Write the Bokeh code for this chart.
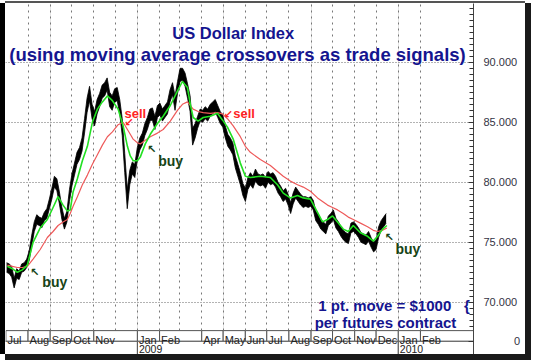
import numpy as np
import pandas as pd
from bokeh.plotting import figure
from bokeh.models import Range1d, FixedTicker, NumeralTickFormatter, Grid, Label
from bokeh.core.properties import value
from bokeh.embed import file_html
from bokeh.resources import INLINE

# ---------------- data ----------------
price_dates = pd.date_range("2008-07-02", "2009-12-15", periods=152)
price_hi = [73.3, 73.2, 73.0, 72.0, 72.8, 72.6, 73.2, 73.3, 73.6, 74.3,
            75.6, 76.7, 77.3, 77.1, 77.0, 77.5, 77.8, 78.6, 79.5, 80.5,
            80.3, 79.2, 77.9, 77.0, 77.6, 79.4, 80.7, 81.6, 82.5, 82.9,
            83.7, 85.3, 87.0, 88.0, 86.5, 85.9, 86.9, 87.4, 88.1, 88.3,
            88.7, 87.5, 87.2, 87.8, 87.9, 86.9, 85.3, 82.4, 79.4, 81.0,
            81.7, 81.5, 82.9, 83.7, 84.1, 84.9, 85.4, 86.1, 86.2, 85.5,
            86.4, 86.6, 86.1, 86.4, 86.7, 87.7, 88.3, 87.2, 88.4, 89.5,
            89.5, 89.1, 88.2, 87.2, 84.5, 84.9, 85.5, 86.1, 86.0, 86.3,
            86.1, 86.5, 86.7, 86.9, 86.4, 85.9, 85.6, 84.7, 84.0, 83.7,
            83.3, 82.2, 81.5, 80.8, 79.9, 79.5, 80.4, 80.8, 80.5, 81.1,
            80.7, 80.6, 80.7, 80.4, 80.9, 80.7, 80.8, 80.5, 80.0, 79.7,
            79.3, 79.5, 79.0, 78.3, 79.1, 79.6, 79.3, 79.0, 78.8, 78.8,
            78.7, 78.8, 78.5, 77.6, 77.3, 76.9, 76.7, 76.5, 77.2, 77.4,
            77.7, 77.0, 76.7, 76.3, 76.0, 75.8, 75.7, 76.6, 76.7, 76.5,
            76.2, 75.8, 75.7, 75.6, 75.9, 75.4, 75.0, 75.2, 76.3, 76.8,
            77.1, 77.4]
price_lo = [72.5, 72.4, 72.1, 71.2, 72.0, 71.9, 72.5, 72.6, 72.9, 73.5,
            74.7, 75.9, 76.5, 76.4, 76.2, 76.8, 77.0, 77.8, 78.6, 79.6,
            79.3, 78.2, 76.9, 76.1, 76.7, 78.4, 79.7, 80.6, 81.5, 81.9,
            82.6, 84.1, 85.8, 86.8, 85.3, 84.7, 85.7, 86.3, 87.0, 87.2,
            87.7, 86.3, 86.0, 86.7, 86.8, 85.7, 83.9, 80.8, 77.8, 79.8,
            80.7, 80.4, 81.9, 82.7, 83.1, 83.9, 84.4, 85.1, 85.2, 84.4,
            85.4, 85.6, 85.1, 85.4, 85.7, 86.7, 87.3, 86.0, 87.4, 88.4,
            88.5, 88.0, 87.0, 85.9, 83.1, 83.7, 84.5, 85.1, 85.0, 85.3,
            85.1, 85.5, 85.7, 85.9, 85.4, 84.9, 84.6, 83.7, 83.0, 82.7,
            82.3, 81.2, 80.5, 79.8, 78.9, 78.4, 79.4, 79.8, 79.5, 80.1,
            79.8, 79.7, 79.8, 79.5, 80.0, 79.8, 79.9, 79.6, 79.1, 78.8,
            78.4, 78.6, 78.1, 77.4, 78.2, 78.7, 78.4, 78.1, 77.9, 78.0,
            77.9, 78.0, 77.7, 76.8, 76.5, 76.1, 75.9, 75.7, 76.4, 76.6,
            76.9, 76.2, 75.9, 75.5, 75.2, 75.0, 74.9, 75.8, 75.9, 75.7,
            75.4, 75.0, 74.9, 74.8, 75.1, 74.6, 74.2, 74.4, 75.4, 76.0,
            76.3, 76.6]

ma_dates = ["2008-07-03", "2008-07-10", "2008-07-17", "2008-07-24", "2008-07-31",
            "2008-08-08", "2008-08-18", "2008-08-28", "2008-09-05", "2008-09-12",
            "2008-09-19", "2008-09-25", "2008-09-29", "2008-10-03", "2008-10-09",
            "2008-10-16", "2008-10-23", "2008-10-30", "2008-11-06", "2008-11-13",
            "2008-11-20", "2008-11-27", "2008-12-05", "2008-12-12", "2008-12-18",
            "2008-12-22", "2008-12-26", "2009-01-01", "2009-01-05", "2009-01-12",
            "2009-01-19", "2009-01-29", "2009-02-06", "2009-02-16", "2009-02-26",
            "2009-03-05", "2009-03-12", "2009-03-16", "2009-03-20", "2009-03-27",
            "2009-04-03", "2009-04-13", "2009-04-23", "2009-04-30", "2009-05-07",
            "2009-05-15", "2009-05-25", "2009-06-01", "2009-06-08", "2009-06-22",
            "2009-07-06", "2009-07-16", "2009-07-24", "2009-08-03", "2009-08-13",
            "2009-08-21", "2009-08-31", "2009-09-10", "2009-09-17", "2009-09-24",
            "2009-10-01", "2009-10-08", "2009-10-16", "2009-10-23", "2009-10-30",
            "2009-11-09", "2009-11-19", "2009-11-27", "2009-12-03", "2009-12-10",
            "2009-12-16"]
ma_fast = [73.0, 72.8, 72.5, 72.7, 73.1, 75.0, 76.2, 76.9, 77.9, 78.8,
           78.1, 77.6, 77.7, 79.2, 80.3, 81.8, 83.0, 85.0, 86.1, 86.7,
           87.2, 86.8, 86.1, 84.7, 83.0, 82.2, 81.8, 81.8, 82.1, 83.2,
           84.0, 84.9, 85.5, 86.4, 87.6, 88.4, 87.9, 86.5, 85.4, 85.1,
           85.4, 85.5, 85.75, 85.2, 84.6, 83.6, 81.6, 80.5, 80.4, 80.5,
           80.4, 79.8, 79.1, 78.7, 78.9, 78.7, 78.6, 77.5, 76.7, 76.9,
           77.2, 76.7, 76.1, 75.9, 76.4, 75.8, 75.5, 75.1, 75.5, 76.1,
           76.4]
ma_slow = [73.1, 73.0, 72.9, 72.9, 73.0, 73.6, 74.4, 75.4, 75.9, 76.4,
           76.7, 76.9, 77.4, 78.0, 78.8, 79.8, 80.6, 81.5, 82.3, 83.1,
           83.8, 84.2, 84.8, 85.0, 84.4, 84.0, 83.6, 83.3, 83.2, 83.5,
           83.8, 84.1, 84.4, 85.1, 86.0, 86.5, 86.7, 86.4, 86.1, 85.9,
           85.8, 85.75, 85.8, 85.7, 85.3, 84.7, 83.8, 83.0, 82.5, 81.9,
           81.4, 80.9, 80.5, 80.1, 79.8, 79.6, 79.25, 78.7, 78.4, 78.1,
           77.9, 77.7, 77.4, 77.1, 76.9, 76.6, 76.3, 76.0, 75.9, 76.0,
           76.2]

month_labels = ["Jul", "Aug", "Sep", "Oct", "Nov", "Jan", "Feb", "Apr", "May",
                "Jun", "Jul", "Aug", "Sep", "Oct", "Nov", "Dec", "Jan", "Feb"]
month_starts = ["2008-07-01", "2008-08-01", "2008-09-01", "2008-10-01", "2008-11-01",
                "2009-01-01", "2009-02-01", "2009-04-01", "2009-05-01", "2009-06-01",
                "2009-07-01", "2009-08-01", "2009-09-01", "2009-10-01", "2009-11-01",
                "2009-12-01", "2010-01-01", "2010-02-01"]
year_labels = ["2009", "2010"]
year_starts = ["2009-01-01", "2010-01-01"]
grid_months = pd.date_range("2008-08-01", "2010-02-01", freq="MS")
y_ticks = [70, 75, 80, 85, 90]
volume_zero = 66.75   # level of the "0" label of the (empty) lower pane


def ms(d):
    return pd.Timestamp(d).value / 1e6


# ---------------- figure ----------------
X0 = pd.Timestamp("2008-06-30 10:35")
X1 = pd.Timestamp("2010-04-16 05:00")
Y0, Y1 = 65.65, 94.9
BAND_TOP, BAND_MID = 67.64, 66.75

p = figure(width=520, height=351, x_axis_type="datetime", x_axis_location=None,
           y_axis_location="right", x_range=Range1d(ms(X0), ms(X1)),
           y_range=Range1d(Y0, Y1), output_backend="svg", toolbar_location=None,
           min_border_left=0, min_border_top=0, min_border_bottom=0, min_border_right=52)
p.outline_line_color = None
p.background_fill_color = "white"
p.border_fill_color = "white"
p.styles = {"margin-left": "5px", "margin-top": "3px",
            "box-shadow": "3px 3px 0 3px #1a1a1a, -5px 0 0 0 #000000, 0 -2px 0 0 #555555"}

# right axis
yax = p.yaxis[0]
yax.ticker = FixedTicker(ticks=y_ticks + [volume_zero],
                         minor_ticks=list(np.arange(68.0, 94.6, 0.5)))
yax.formatter = NumeralTickFormatter(format="0.000")
yax.major_label_overrides = {volume_zero: "\u00a0" * 10 + "0"}
yax.major_tick_in = 5
yax.major_tick_out = 0
yax.minor_tick_in = 4
yax.minor_tick_out = 0
yax.axis_line_color = "#444444"
yax.major_tick_line_color = "#333333"
yax.minor_tick_line_color = "#333333"
yax.major_label_text_font = "Liberation Sans"
yax.major_label_text_font_size = "11px"
yax.major_label_text_color = "#333344"
yax.major_label_standoff = 10

# grids
p.ygrid.ticker = FixedTicker(ticks=y_ticks)
p.ygrid.grid_line_color = "#666666"
p.ygrid.grid_line_dash = "1 2"
p.add_layout(Grid(dimension=0, ticker=FixedTicker(ticks=[ms(d) for d in grid_months]),
                  grid_line_color="#777777", grid_line_dash="2 4"))

# price band (highs / lows)
p.varea(x=price_dates, y1=price_lo, y2=price_hi, fill_color="black")
p.line(price_dates, price_hi, line_color="black", line_width=0.8)
p.line(price_dates, price_lo, line_color="black", line_width=0.8)

# moving averages
mad = pd.to_datetime(ma_dates)
p.line(mad, ma_slow, line_color="#ee5a5a", line_width=1.2)
p.line(mad, ma_fast, line_color="#22e022", line_width=1.6)

# month / year band
ms_st = list(pd.to_datetime(month_starts))
m_right = ms_st[1:] + [X1 + pd.Timedelta(days=30)]
p.quad(left=ms_st, right=m_right, top=BAND_TOP, bottom=BAND_MID,
       fill_color="white", line_color="#555555", line_width=1)
ys_st = [X0 - pd.Timedelta(days=30)] + list(pd.to_datetime(year_starts))
y_right = ys_st[1:] + [X1 + pd.Timedelta(days=30)]
p.quad(left=ys_st, right=y_right, top=BAND_MID, bottom=Y0 - 1,
       fill_color="white", line_color="#555555", line_width=1)
p.text(x=ms_st, y=[66.86] * len(ms_st), text=month_labels,
       x_offset=1.5, text_font=value("Liberation Sans"), text_font_size="11px",
       text_color="#222222", text_baseline="alphabetic", text_align="left")
p.text(x=list(pd.to_datetime(year_starts)), y=[66.14] * 2, text=year_labels,
       x_offset=1.5, text_font=value("Liberation Sans"), text_font_size="10.5px",
       text_color="#222222", text_baseline="alphabetic", text_align="left")

NAVY = "#15158f"
RED = "#ff2424"
DKGREEN = "#174417"


def lab(x, y, text, color, size, align="left", font="Liberation Sans", style="bold",
        baseline="alphabetic"):
    p.add_layout(Label(x=ms(x), y=y, text=text, text_color=color, text_font=font,
                       text_font_size=size, text_font_style=style, text_align=align,
                       text_baseline=baseline))


lab("2009-05-15", 92.46, "US Dollar Index", NAVY, "16.5px", align="center")
lab("2009-05-21", 90.62, "(using moving average crossovers as trade signals)", NAVY,
    "18.5px", align="center")
lab("2008-12-14", 85.73, "sell", RED, "13px")
lab("2009-05-15", 85.73, "sell", RED, "13px")
lab("2008-12-20", 84.98, "\u2199", RED, "11px", align="center", font="DejaVu Sans",
    baseline="middle")
lab("2009-05-08", 85.65, "\u2199", RED, "11px", align="center", font="DejaVu Sans",
    baseline="middle")
lab("2008-08-21", 71.67, "buy", DKGREEN, "14px")
lab("2009-01-30", 81.75, "buy", DKGREEN, "14px")
lab("2009-12-28", 74.48, "buy", DKGREEN, "14px")
lab("2008-08-10", 72.48, "\u2196", DKGREEN, "11px", align="center", font="DejaVu Sans",
    baseline="middle")
lab("2009-01-21", 82.73, "\u2196", DKGREEN, "11px", align="center", font="DejaVu Sans",
    baseline="middle")
lab("2009-12-19", 75.40, "\u2196", DKGREEN, "11px", align="center", font="DejaVu Sans",
    baseline="middle")
lab("2009-09-11", 69.77, "1 pt. move = $1000", NAVY, "15px")
lab("2010-04-03", 69.77, "{", NAVY, "15px")
lab("2009-09-06", 68.35, "per futures contract", NAVY, "15px")

open("out.html", "w").write(file_html(p, INLINE))
